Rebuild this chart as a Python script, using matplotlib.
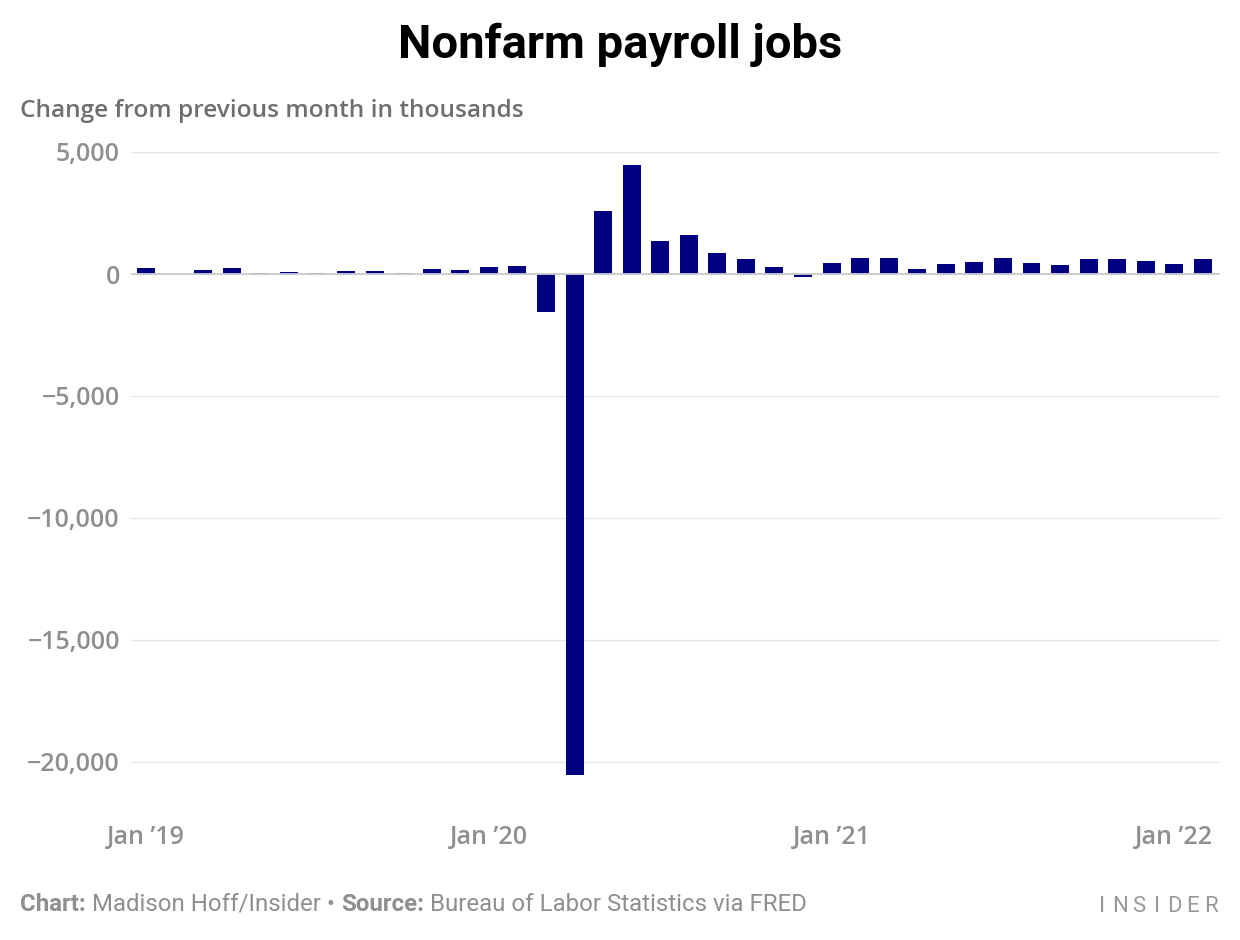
import matplotlib
matplotlib.use("Agg")
import matplotlib.pyplot as plt
from matplotlib.ticker import FuncFormatter

# Monthly change in nonfarm payrolls, thousands (Jan 2019 - Feb 2022)
months = [f"{m} {y}" for y in (2019, 2020, 2021, 2022)
          for m in ("Jan", "Feb", "Mar", "Apr", "May", "Jun",
                    "Jul", "Aug", "Sep", "Oct", "Nov", "Dec")][:38]
changes = [
    260, 10, 177, 260, 55, 95, 55, 140, 140, 55, 220, 177,
    300, 340, -1550, -20550, 2600, 4480, 1366, 1612, 874, 628, 300, -140,
    465, 670, 670, 220, 425, 505, 670, 465, 383, 628, 628, 547,
    425, 628,
]
x_tick_pos = [0, 12, 24, 36]
x_tick_labels = ["Jan \u201919", "Jan \u201920", "Jan \u201921", "Jan \u201922"]
y_ticks = [5000, 0, -5000, -10000, -15000, -20000]

plt.rcParams["font.family"] = ["Roboto", "DejaVu Sans"]
LABEL_FONT = ["Open Sans", "DejaVu Sans"]

TICK_GREY = "#8f8f8f"
SUB_GREY = "#6e6e6e"
NAVY = "#000080"

fig = plt.figure(figsize=(12.4, 9.4), dpi=100)
ax = fig.add_axes([131 / 1240, 1 - 798.6 / 940, (1220 - 131) / 1240, (798.6 - 152) / 940])

ax.bar(range(len(changes)), changes, width=0.63, color=NAVY, zorder=2)
ax.axhline(0, color="#cccccc", lw=1.3, zorder=3)

ax.set_xlim(-0.53, 37.6)
ax.set_ylim(-21500, 5000)
ax.set_yticks(y_ticks)
ax.yaxis.set_major_formatter(
    FuncFormatter(lambda v, p: f"{v:,.0f}".replace("-", "\u2212")))
ax.set_xticks(x_tick_pos)
ax.set_xticklabels(x_tick_labels)

ax.grid(axis="y", color="#e6e6e6", lw=0.9, zorder=0)
ax.set_axisbelow(True)
for s in ax.spines.values():
    s.set_visible(False)
ax.tick_params(axis="both", length=0, colors=TICK_GREY, labelsize=18)
ax.tick_params(axis="y", pad=8)
ax.tick_params(axis="x", pad=19)
for lbl in ax.get_xticklabels() + ax.get_yticklabels():
    lbl.set_family(LABEL_FONT)
    lbl.set_fontweight("semibold")

# Titles
fig.text(0.5, 1 - 58 / 940, "Nonfarm payroll jobs", ha="center", va="baseline",
         fontsize=34, fontweight="bold", color="black")
fig.text(20 / 1240, 1 - 117 / 940, "Change from previous month in thousands",
         ha="left", va="baseline", fontsize=17.6, fontweight="semibold",
         family=LABEL_FONT, color=SUB_GREY)

# Footer with mixed weights
renderer = fig.canvas.get_renderer()
parts = [("Chart:", "bold"), (" Madison Hoff/Insider \u2022 ", "normal"),
         ("Source:", "bold"), (" Bureau of Labor Statistics via FRED", "normal")]
x_px = 20
for txt, wt in parts:
    t = fig.text(x_px / 1240, 1 - 911 / 940, txt, ha="left", va="baseline",
                 fontsize=17.3, fontweight=wt, color=TICK_GREY)
    x_px += t.get_window_extent(renderer).width

brand = "INSIDER"
for i, ch in enumerate(brand):
    fig.text((1102 + i * 18.2) / 1240, 1 - 912 / 940, ch, ha="center", va="baseline",
             fontsize=16, color="#9a9a9a")

fig.savefig("out.png", dpi=100)
